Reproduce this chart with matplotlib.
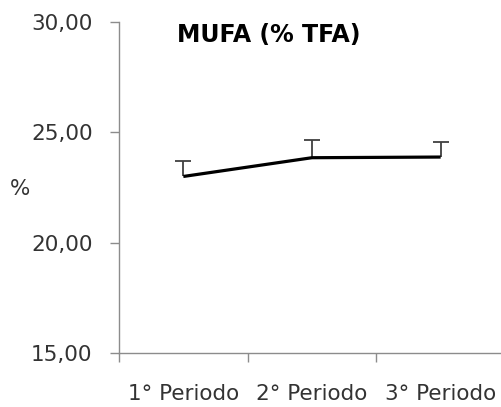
import matplotlib.pyplot as plt

periods = ["1° Periodo", "2° Periodo", "3° Periodo"]
mufa = [23.0, 23.85, 23.88]
mufa_err = [0.72, 0.8, 0.7]

plt.rcParams["font.family"] = ["DejaVu Sans"]

fig = plt.figure(figsize=(5.01, 4.07), dpi=100)
ax = fig.add_axes([119 / 501, 54 / 407, 386 / 501, 331 / 407])

x = [i + 0.5 for i in range(len(periods))]
tops = [m + e for m, e in zip(mufa, mufa_err)]

# upper-only error bars, capped just at the top
ax.vlines(x, mufa, tops, color="#404040", linewidth=1.3, zorder=2)
ax.plot(x, tops, linestyle="none", marker="_", markersize=12, markeredgewidth=1.3,
        color="#404040", zorder=2)
ax.plot(x, mufa, color="black", linewidth=2.3, solid_capstyle="butt", zorder=3)

ax.set_xlim(0, len(periods))
ax.set_ylim(15, 30)
ax.set_yticks([15, 20, 25, 30])
ax.set_yticklabels(["15,00", "20,00", "25,00", "30,00"])
ax.set_xticks(range(len(periods) + 1))
ax.set_xticklabels([])
ax.set_xticks(x, minor=True)
ax.set_xticklabels(periods, minor=True)

for side in ("top", "right"):
    ax.spines[side].set_visible(False)
for side in ("left", "bottom"):
    ax.spines[side].set_color("#8c8c8c")
    ax.spines[side].set_linewidth(1.0)

ax.tick_params(axis="y", length=6.5, width=1, color="#8c8c8c", pad=12.5,
               labelsize=15.5, labelcolor="#333333")
ax.tick_params(axis="x", which="major", length=6.5, width=1, color="#8c8c8c", direction="out")
ax.tick_params(axis="x", which="minor", length=0, pad=22, labelsize=15.5, labelcolor="#333333")

fig.text(20 / 501, 1 - 189 / 407, "%", fontsize=15.5, color="#333333", ha="center", va="center")
fig.text(269 / 501, 1 - 35 / 407, "MUFA (% TFA)", fontsize=17, fontweight="bold",
         ha="center", va="center", color="black")

fig.savefig("out.png", dpi=100)
